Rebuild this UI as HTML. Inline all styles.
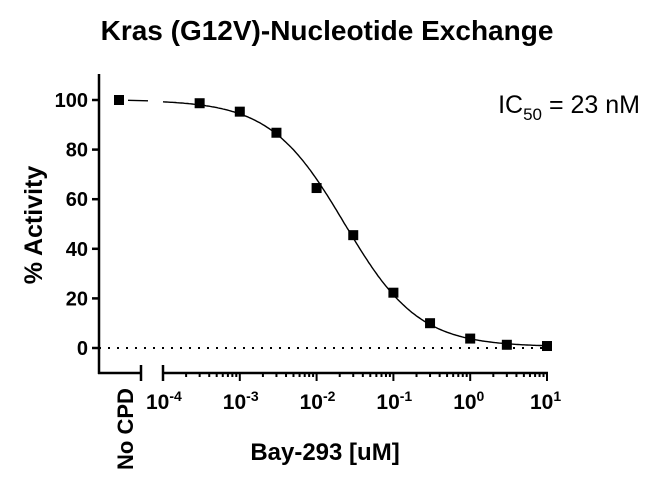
<!DOCTYPE html>
<html><head><meta charset="utf-8"><style>
body{margin:0;background:#fff;}
svg{display:block;font-family:"Liberation Sans",Arial,sans-serif;font-weight:bold;}
</style></head><body>
<svg id="s" width="653" height="487" viewBox="0 0 653 487" xmlns="http://www.w3.org/2000/svg">
<text x="327" y="40" text-anchor="middle" font-size="28">Kras (G12V)-Nucleotide Exchange</text>
<text transform="translate(42,225) rotate(-90)" text-anchor="middle" font-size="25">% Activity</text>
<text x="325" y="460" text-anchor="middle" font-size="24">Bay-293 [uM]</text>
<text x="640" y="113" text-anchor="end" font-size="25" font-weight="normal">IC<tspan font-size="17" dy="7">50</tspan><tspan dy="-7"> = 23 nM</tspan></text>
<g stroke="#000" stroke-width="2.5" fill="none">
<line x1="99" y1="74" x2="99" y2="374"/>
<line x1="98" y1="373" x2="141" y2="373"/>
<line x1="141" y1="365" x2="141" y2="381"/>
<line x1="163" y1="365" x2="163" y2="381"/>
<line x1="163" y1="373" x2="548" y2="373"/>
</g>
<g id="yt" stroke="#000" stroke-width="2.5"></g>
<g font-size="20" text-anchor="end" id="yl"></g>
<line x1="99" y1="348" x2="547" y2="348" stroke="#000" stroke-width="2" stroke-dasharray="2,7"/>
<g id="xt" stroke="#000" stroke-width="2"></g>
<g font-size="21" id="xl"></g>
<text transform="translate(133,470) rotate(-90)" font-size="22">No CPD</text>
<path id="c" stroke="#000" stroke-width="1.4" fill="none"/>
<line x1="128" y1="100.3" x2="148" y2="100.8" stroke="#000" stroke-width="1.4"/>
<g id="pts"></g>
</svg>
<script>
var NS="http://www.w3.org/2000/svg";
function el(p,t,a,txt){var e=document.createElementNS(NS,t);for(var k in a)e.setAttribute(k,a[k]);if(txt!=null)e.textContent=txt;document.getElementById(p).appendChild(e);return e;}
function Y(v){return 348-v*2.48;}
function X(l){return 163+(l+4)*76.8;}
for(var v=0;v<=100;v+=20){el("yt","line",{x1:92,x2:99,y1:Y(v),y2:Y(v)});el("yl","text",{x:88,y:Y(v)+7},v);}
for(var d=-4;d<=1;d++){el("xt","line",{x1:X(d),x2:X(d),y1:373,y2:381});
 var t=el("xl","text",{x:X(d)-17,y:409},"10");var s=document.createElementNS(NS,"tspan");s.setAttribute("dy","-8");s.setAttribute("font-size","14");s.textContent=d<0?"-"+(-d):d;t.appendChild(s);
 if(d<1)for(var m=2;m<10;m++){var x=X(d+Math.log10(m));el("xt","line",{x1:x,x2:x,y1:373,y2:377});}}
var dpath="";for(var l=-4;l<=1.001;l+=0.02){var c=Math.pow(10,l);var v=0.5+99.5/(1+Math.pow(c/0.023,0.9));dpath+=(dpath?"L":"M")+X(l).toFixed(1)+","+Y(v).toFixed(1);}
document.getElementById("c").setAttribute("d",dpath);
var data=[[3e-4,98.7],[1e-3,95.3],[3e-3,86.8],[1e-2,64.5],[3e-2,45.5],[0.1,22.3],[0.3,10],[1,3.8],[3,1.3],[10,0.8]];
el("pts","rect",{x:114,y:Y(100)-5,width:10,height:10});
data.forEach(function(p){el("pts","rect",{x:X(Math.log10(p[0]))-5,y:Y(p[1])-5,width:10,height:10});});
</script>
</body></html>
